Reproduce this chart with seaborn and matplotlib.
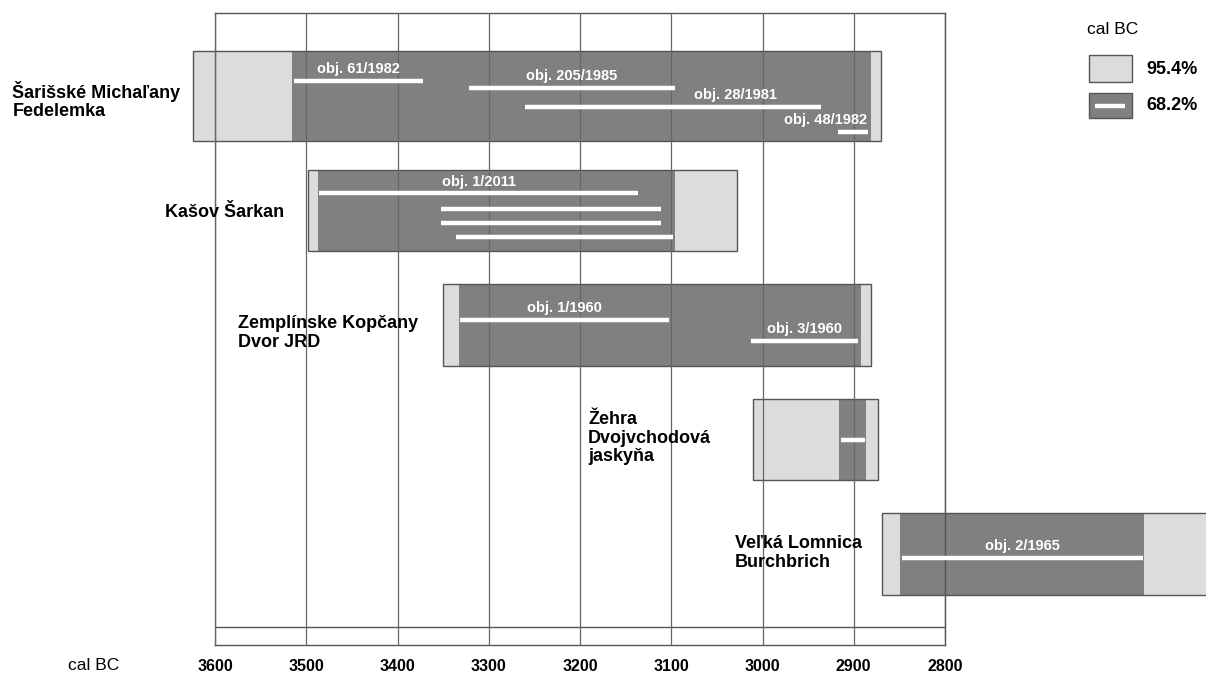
import pandas as pd
import seaborn as sns
import matplotlib.pyplot as plt
from matplotlib.patches import Rectangle
from matplotlib.lines import Line2D

# Sites, top to bottom
sites = [
    "Šarišské Michaľany\nFedelemka",
    "Kašov Šarkan",
    "Zemplínske Kopčany\nDvor JRD",
    "Žehra\nDvojvchodová\njaskyňa",
    "Veľká Lomnica\nBurchbrich",
]

# summed ranges per site (cal BC)
range95_start = [3624, 3498, 3350, 3010, 2869]
range95_end = [2870, 3028, 2881, 2873, 2500]
range68_start = [3516, 3487, 3333, 2916, 2849]
range68_end = [2881, 3096, 2892, 2887, 2582]

# single dates, 68.2% ranges
seg_site = [0, 0, 0, 0, 1, 1, 1, 1, 2, 2, 3, 4]
seg_label = ["obj. 61/1982", "obj. 205/1985", "obj. 28/1981", "obj. 48/1982",
             "obj. 1/2011", "", "", "", "obj. 1/1960", "obj. 3/1960", "", "obj. 2/1965"]
seg_start = [3513, 3322, 3260, 2917, 3486, 3352, 3352, 3336, 3332, 3013, 2914, 2847]
seg_end = [3372, 3096, 2936, 2884, 3136, 3111, 3111, 3098, 3103, 2895, 2888, 2583]

ticks = list(range(3600, 2799, -100))
legend_labels = ["95.4%", "68.2%"]

# layout
row_height = [0.79, 0.70, 0.71, 0.71, 0.71]
seg_frac = [0.337, 0.407, 0.619, 0.893, 0.2875, 0.479, 0.654, 0.834, 0.44, 0.70, 0.506, 0.55]
label_x_override = {2: 3030, 3: 2931}
name_x = [3822, 3655, 3575, 3191, 3030]
name_dy = [0.04, 0.02, 0.07, -0.01, -0.01]

light = "#dcdcdc"
dark = "#808080"
edge = "#555555"

sns.set_theme(style="white")
plt.rcParams['font.family'] = ['Liberation Sans', 'DejaVu Sans']
plt.rcParams['text.color'] = 'black'

fig = plt.figure(figsize=(12.06, 6.75), dpi=100)
ax = fig.add_axes([215 / 1206, 30 / 675, 730 / 1206, 632.3 / 675])

for i in range(len(sites)):
    h = row_height[i]
    ax.barh(i, range95_end[i] - range95_start[i], left=range95_start[i], height=h,
            color=light, linewidth=0, clip_on=False)
    ax.barh(i, range68_end[i] - range68_start[i], left=range68_start[i], height=h,
            color=dark, linewidth=0, clip_on=False)
    ax.barh(i, range95_end[i] - range95_start[i], left=range95_start[i], height=h,
            facecolor="none", edgecolor=edge, linewidth=1, clip_on=False)
    ax.text(name_x[i], i + name_dy[i], sites[i], ha="left", va="center",
            fontsize=13, fontweight="bold", linespacing=1.12, clip_on=False)

# white 68.2% segments
rows = []
for k in range(len(seg_site)):
    i = seg_site[k]
    y = i - row_height[i] / 2 + seg_frac[k] * row_height[i]
    rows.append({"seg": k, "x": seg_start[k], "y": y})
    rows.append({"seg": k, "x": seg_end[k], "y": y})
seg_df = pd.DataFrame(rows)
sns.lineplot(data=seg_df, x="x", y="y", units="seg", estimator=None, sort=False,
             color="white", linewidth=3.2, ax=ax, zorder=3, legend=False,
             solid_capstyle="butt")
for ln in ax.lines:
    ln.set_clip_on(False)

for k in range(len(seg_site)):
    if not seg_label[k]:
        continue
    i = seg_site[k]
    y = i - row_height[i] / 2 + seg_frac[k] * row_height[i]
    xc = label_x_override.get(k, (seg_start[k] + seg_end[k]) / 2)
    ax.annotate(seg_label[k], (xc, y), xytext=(0, 8.6), textcoords="offset points",
                ha="center", va="center", color="white", fontsize=10.5,
                fontweight="bold", zorder=4, annotation_clip=False)

ax.set_xlim(3600, 2800)
ax.set_ylim(4.795, -0.7275)
ax.axhline(4.638, color=edge, linewidth=1)

ax.set_axisbelow(False)
ax.grid(True, axis="x", color="#666666", linewidth=0.9)
ax.grid(False, axis="y")
ax.set_xticks(ticks)
ax.set_xticklabels([str(t) for t in ticks], fontweight="bold", fontsize=11.5)
ax.tick_params(axis="x", length=0, pad=10, colors="black")
ax.set_yticks([])
ax.set_xlabel("")
ax.set_ylabel("")
for s in ax.spines.values():
    s.set_color(edge)
    s.set_linewidth(1)

fig.text(94 / 1206, 1 - 666 / 675, "cal BC", ha="center", va="center", fontsize=12.5)

# legend
fig.text(1087 / 1206, 1 - 29 / 675, "cal BC", ha="left", va="center", fontsize=12.5)
fig.add_artist(Rectangle((1089 / 1206, 1 - 82 / 675), 43 / 1206, 27 / 675,
                         transform=fig.transFigure, facecolor=light, edgecolor=edge, lw=1))
fig.add_artist(Rectangle((1089 / 1206, 1 - 118 / 675), 43 / 1206, 25 / 675,
                         transform=fig.transFigure, facecolor=dark, edgecolor=edge, lw=1))
fig.add_artist(Line2D([1095 / 1206, 1125 / 1206], [1 - 105.5 / 675] * 2,
                      transform=fig.transFigure, color="white", lw=3.2,
                      solid_capstyle="butt"))
fig.text(1146 / 1206, 1 - 69 / 675, legend_labels[0], ha="left", va="center",
         fontsize=13, fontweight="bold")
fig.text(1146 / 1206, 1 - 106 / 675, legend_labels[1], ha="left", va="center",
         fontsize=13, fontweight="bold")

fig.savefig("out.png", dpi=100)
